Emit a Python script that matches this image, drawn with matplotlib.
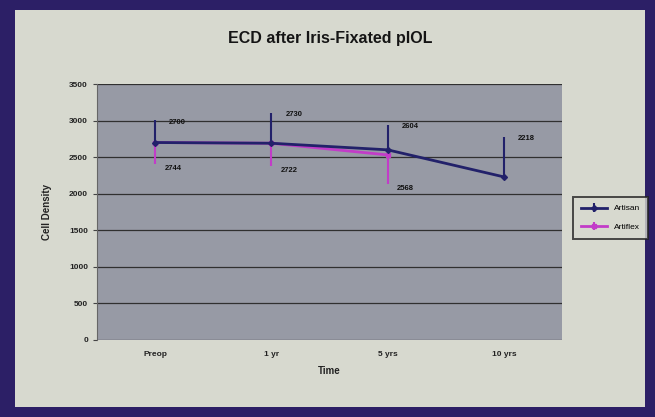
import matplotlib
matplotlib.use("Agg")
import matplotlib.pyplot as plt

plt.rcParams["font.family"] = ["Liberation Sans", "DejaVu Sans"]

categories = ["Preop", "1 yr", "5 yrs", "10 yrs"]
artisan = [2700, 2690, 2600, 2230]
artisan_err_up = [310, 420, 345, 550]
artiflex = [2700, 2690, 2530]
artiflex_err_down = [300, 310, 400]
labels_top = ["2700", "2730", "2604", "2218"]
labels_bottom = ["2744", "2722", "2568"]
yticks = [0, 500, 1000, 1500, 2000, 2500, 3000, 3500]

fig = plt.figure(figsize=(6.55, 4.17), dpi=100)
fig.patch.set_facecolor("#2c1f66")
bg = fig.add_axes([15/655, 1-407/417, 630/655, 397/417], zorder=-5)
bg.set_facecolor("#d7d9cf")
bg.set_xticks([])
bg.set_yticks([])
for s in bg.spines.values():
    s.set_visible(False)

ax = fig.add_axes([97/655, 1-340/417, 465/655, 256/417], zorder=1)
ax.set_facecolor("#979aa5")
xa = list(range(len(artisan)))
xf = list(range(len(artiflex)))

ax.errorbar(xa, artisan, yerr=[[0]*len(artisan), artisan_err_up], color="#22216a",
            lw=2, marker="D", ms=3, ecolor="#22216a", elinewidth=1.5, capsize=0,
            label="Artisan", zorder=4)
ax.errorbar(xf, artiflex, yerr=[artiflex_err_down, [0]*len(artiflex)], color="#c23cc8",
            lw=2, marker="s", ms=3, ecolor="#c23cc8", elinewidth=1.5, capsize=0,
            label="Artiflex", zorder=3)

for i, t in enumerate(labels_top):
    ax.text(i + 0.12, artisan[i] + artisan_err_up[i] - 30, t, fontsize=5.5,
            fontweight="bold", color="#111111", va="center")
for i, t in enumerate(labels_bottom):
    ax.text(i + 0.08, artiflex[i] - artiflex_err_down[i] - 60, t, fontsize=5.5,
            fontweight="bold", color="#111111", va="center")

ax.set_xlim(-0.5, len(categories) - 0.5)
ax.set_ylim(0, 3500)
ax.set_xticks(range(len(categories)))
ax.set_xticklabels(categories, fontsize=6, fontweight="bold", color="#222222")
ax.set_yticks(yticks)
ax.set_yticklabels([str(v) for v in yticks], fontsize=6, fontweight="bold", color="#222222")
ax.tick_params(axis="x", length=0, pad=8)
ax.tick_params(axis="y", length=3, color="#444444")
ax.grid(axis="y", color="#303030", lw=0.9)
ax.set_axisbelow(True)
for s in ax.spines.values():
    s.set_visible(False)
ax.spines["left"].set_visible(True)
ax.spines["left"].set_color("#666666")

ax.set_xlabel("Time", fontsize=7, fontweight="bold", color="#222222", labelpad=6)
ax.set_ylabel("Cell Density", fontsize=7, fontweight="bold", color="#222222", labelpad=12)
fig.text(330/655, 1-38/417, "ECD after Iris-Fixated pIOL", ha="center", va="center",
         fontsize=11.5, fontweight="bold", color="#151515")

leg = ax.legend(loc="center left", bbox_to_anchor=(573/465 - 97/465, 0.477),
                fontsize=6, frameon=True, fancybox=False, edgecolor="#222222",
                facecolor="#d7d9cf", handlelength=3.2, borderpad=0.9, labelspacing=1.3,
                borderaxespad=0)
leg.get_frame().set_linewidth(1.4)

fig.savefig("out.png", dpi=100, facecolor=fig.get_facecolor())
